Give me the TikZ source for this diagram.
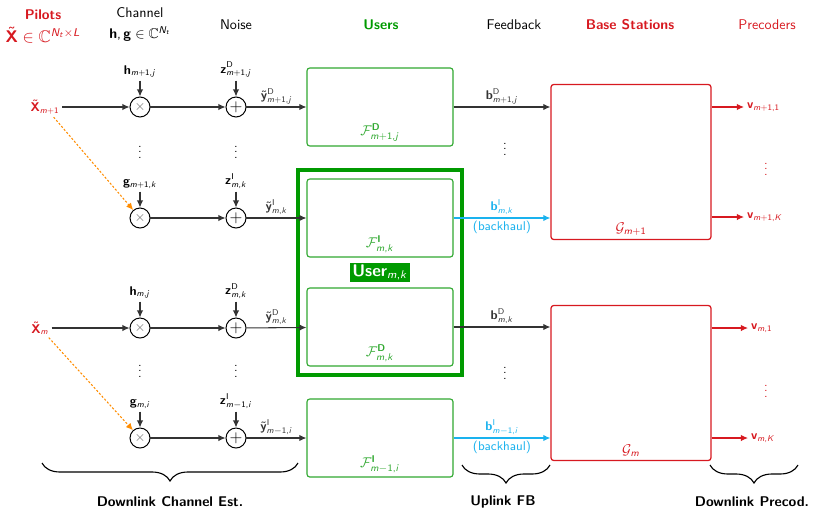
\documentclass[tikz,border=0pt]{standalone}
\usepackage{amssymb}
\usepackage{tikz}
\usetikzlibrary{arrows.meta, positioning, fit, calc, decorations.pathreplacing}
\renewcommand{\familydefault}{\sfdefault}
% sans serif math, as in the slides
\SetSymbolFont{operators}{normal}{OT1}{cmss}{m}{n}
\SetSymbolFont{letters}{normal}{OT1}{cmss}{m}{sl}
\DeclareMathAlphabet{\mathbf}{OT1}{cmss}{bx}{n}
\DeclareMathAlphabet{\mathsf}{OT1}{cmss}{m}{n}
\DeclareMathSymbol{,}{\mathpunct}{operators}{"2C}
\definecolor{bsred}{HTML}{D71920}
\definecolor{usergreen}{HTML}{009A00}
\definecolor{boxgreen}{HTML}{2FA82F}
\definecolor{fbcyan}{HTML}{1AB2EE}
\definecolor{pilorange}{HTML}{FF8C00}

\begin{document}
\begin{tikzpicture}[x=0.025cm, y=-0.025cm,
  mul/.style={circle, draw, line width=0.7pt, minimum size=0.5cm, inner sep=0pt},
  usr/.style={draw=boxgreen, line width=0.8pt, rounded corners=2pt, minimum width=3.65cm, minimum height=1.95cm},
  bs/.style={draw=bsred, line width=0.9pt, rounded corners=2pt, minimum width=4cm, minimum height=3.875cm},
  arr/.style={-{Latex[length=5pt,width=4.5pt]}, line width=0.75pt, color=black!80},
  lbl/.style={font=\small, inner sep=2pt},
  brc/.style={decorate, decoration={brace, mirror, amplitude=0.45cm}, line width=0.8pt}
]
\useasboundingbox (0,0) rectangle (821,512);

% column heads
\node[text=bsred, font=\bfseries]  (hpil)  at (43,15)  {Pilots};
\node[text=bsred, font=\large]     (hpilx) at (43,35)  {$\tilde{\mathbf{X}}\in\mathbb{C}^{N_t\times L}$};
\node                              (hch)   at (140,13) {Channel};
\node                              (hchx)  at (140,34) {$\mathbf{h},\mathbf{g}\in\mathbb{C}^{N_t}$};
\node                              (hnz)   at (236,25) {Noise};
\node[text=usergreen, font=\bfseries] (husr) at (381,25) {Users};
\node                              (hfb)   at (514,25) {Feedback};
\node[text=bsred, font=\bfseries]  (hbs)   at (630,25) {Base Stations};
\node[text=bsred]                  (hpre)  at (767,25) {Precoders};

% pilots, multipliers, adders
\node[lbl, text=bsred] (pil1) at (45,107) {$\tilde{\mathbf{X}}_{m+1}$};
\node[lbl, text=bsred] (pil2) at (40,328) {$\tilde{\mathbf{X}}_{m}$};
\foreach \r/\y in {1/107,2/218,3/328,4/438} {
  \node[mul] (mul\r) at (140,\y) {\color{black!60}$\times$};
  \node[mul] (add\r) at (236,\y) {\large$+$};
}
\node[lbl, above=0.4cm of mul1] (ch1) {$\mathbf{h}_{m+1,j}$};
\node[lbl, above=0.4cm of mul2] (ch2) {$\mathbf{g}_{m+1,k}$};
\node[lbl, above=0.4cm of mul3] (ch3) {$\mathbf{h}_{m,j}$};
\node[lbl, above=0.4cm of mul4] (ch4) {$\mathbf{g}_{m,i}$};
\node[lbl, above=0.4cm of add1] (nz1) {$\mathbf{z}^{\mathsf{D}}_{m+1,j}$};
\node[lbl, above=0.4cm of add2] (nz2) {$\mathbf{z}^{\mathsf{I}}_{m,k}$};
\node[lbl, above=0.4cm of add3] (nz3) {$\mathbf{z}^{\mathsf{D}}_{m,k}$};
\node[lbl, above=0.4cm of add4] (nz4) {$\mathbf{z}^{\mathsf{I}}_{m-1,i}$};
\foreach \x/\y in {140/148,236/148,140/367,236/367,505/145,505/369}
  \node[lbl] at (\x,\y) {$\vdots$};

% users
\node[usr] (usr1) at (380,107) {};
\node[usr] (usr2) at (380,218) {};
\node[usr] (usr3) at (380,327) {};
\node[usr] (usr4) at (380,438) {};
\node[above=0pt, text=boxgreen] (f1) at (usr1.south) {$\mathcal{F}^{\mathbf{D}}_{m+1,j}$};
\node[above=0pt, text=boxgreen] (f2) at (usr2.south) {$\mathcal{F}^{\mathbf{I}}_{m,k}$};
\node[above=0pt, text=boxgreen] (f3) at (usr3.south) {$\mathcal{F}^{\mathbf{D}}_{m,k}$};
\node[above=0pt, text=boxgreen] (f4) at (usr4.south) {$\mathcal{F}^{\mathbf{I}}_{m-1,i}$};
\node[draw=usergreen, line width=2.8pt, fit=(usr2)(usr3), inner sep=0.2cm] (usrmk) {};
\node[fill=usergreen, text=white, font=\large\bfseries, inner sep=1.5pt] (usrlbl)
  at ($(usr2.south)!0.5!(usr3.north)$) {User$_{m,k}$};

% base stations
\node[bs] (bs1) at (631,162) {};
\node[bs] (bs2) at (631,383) {};
\node[above=0pt, text=bsred] (g1) at (bs1.south) {$\mathcal{G}_{m+1}$};
\node[above=0pt, text=bsred] (g2) at (bs2.south) {$\mathcal{G}_{m}$};

% precoders
\node[lbl, anchor=west, text=bsred] (v1) at (744,107) {$\mathbf{v}_{m+1,1}$};
\node[lbl, anchor=west, text=bsred] (v2) at (744,217) {$\mathbf{v}_{m+1,K}$};
\node[lbl, anchor=west, text=bsred] (v3) at (748,328) {$\mathbf{v}_{m,1}$};
\node[lbl, anchor=west, text=bsred] (v4) at (748,438) {$\mathbf{v}_{m,K}$};
\node[lbl, text=bsred] at (766,165) {$\vdots$};
\node[lbl, text=bsred] at (766,387) {$\vdots$};

% connectors
\foreach \r in {1,...,4} {
  \draw[arr] (ch\r) -- (mul\r);
  \draw[arr] (nz\r) -- (add\r);
  \draw[arr] (mul\r) -- (add\r);
}
\draw[arr] (pil1) -- (mul1);
\draw[arr] (pil2) -- (mul3);
\draw[arr, pilorange, dash pattern=on 1.5pt off 1.3pt] (pil1) -- (mul2);
\draw[arr, pilorange, dash pattern=on 1.5pt off 1.3pt] (pil2) -- (mul4);

\draw[arr] (add1) -- (usr1) node[lbl, midway, above] {$\tilde{\mathbf{y}}^{\mathsf{D}}_{m+1,j}$};
\draw[arr] (add2) -- (usr2) node[lbl, midway, above] {$\tilde{\mathbf{y}}^{\mathsf{I}}_{m,k}$};
\draw[arr] (add3) -- (usr3) node[lbl, midway, above] {$\tilde{\mathbf{y}}^{\mathsf{D}}_{m,k}$};
\draw[arr] (add4) -- (usr4) node[lbl, midway, above] {$\tilde{\mathbf{y}}^{\mathsf{I}}_{m-1,i}$};

\draw[arr] (usr1) -- (usr1 -| bs1.west) node[lbl, midway, above] {$\mathbf{b}^{\mathsf{D}}_{m+1,j}$};
\draw[arr, fbcyan] (usr2) -- (usr2 -| bs1.west) node[lbl, midway, above] {$\mathbf{b}^{\mathsf{I}}_{m,k}$}
  node[midway, below, font=\small, inner sep=2pt] {(backhaul)};
\draw[arr] (usr3) -- (usr3 -| bs2.west) node[lbl, midway, above] {$\mathbf{b}^{\mathsf{D}}_{m,k}$};
\draw[arr, fbcyan] (usr4) -- (usr4 -| bs2.west) node[lbl, midway, above] {$\mathbf{b}^{\mathsf{I}}_{m-1,i}$}
  node[midway, below, font=\small, inner sep=2pt] {(backhaul)};

\draw[arr, bsred] (v1.west -| bs1.east) -- (v1.west);
\draw[arr, bsred] (v2.west -| bs1.east) -- (v2.west);
\draw[arr, bsred] (v3.west -| bs2.east) -- (v3.west);
\draw[arr, bsred] (v4.west -| bs2.east) -- (v4.west);

% stages
\draw[brc] (42,463) -- (298,463);
\draw[brc] (462,465) -- (550,465);
\draw[brc] (710,465) -- (798,465);
\node[font=\bfseries] (est) at (170,502) {Downlink Channel Est.};
\node[font=\bfseries] (ufb) at (503,502) {Uplink FB};
\node[font=\bfseries] (dlp) at (752,502) {Downlink Precod.};
\end{tikzpicture}
\end{document}
